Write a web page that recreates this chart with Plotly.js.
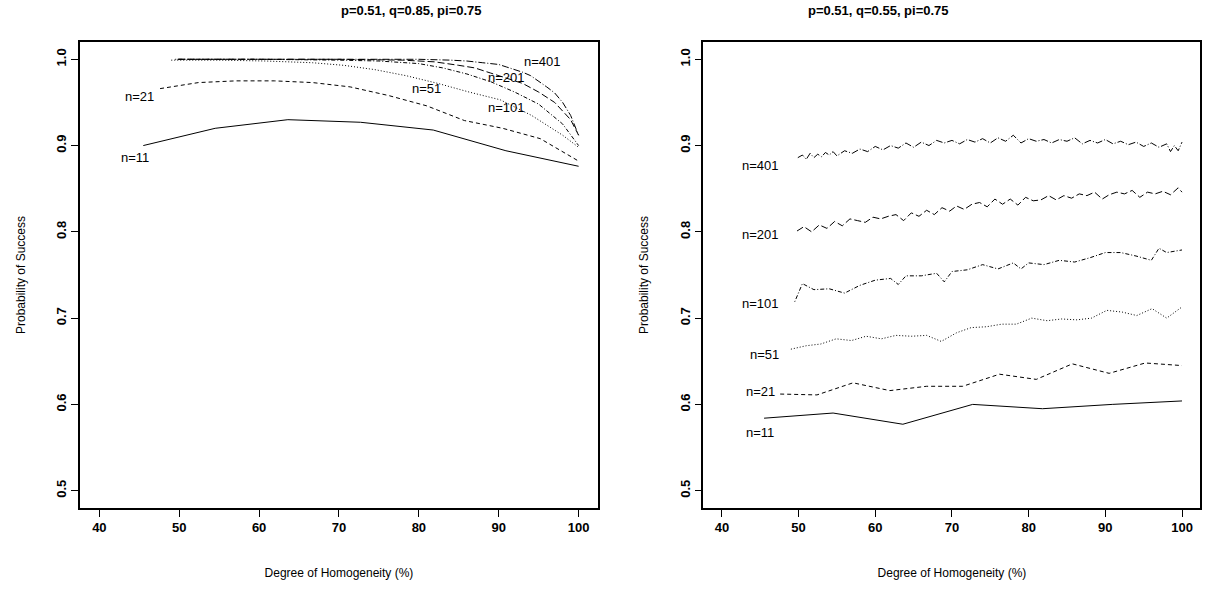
<!DOCTYPE html>
<html><head><meta charset="utf-8">
<script src="https://cdn.plot.ly/plotly-3.0.1.min.js"></script>
<style>body{margin:0}#g{width:1215px;height:592px}</style>
</head><body><div id="g"></div>
<script>
// left panel: p=0.51, q=0.85
var L11x=[45.5,54.5,63.6,72.7,81.8,90.9,100];
var L11y=[0.900,0.920,0.930,0.927,0.918,0.894,0.876];
var L21x=[47.6,52.4,57.1,61.9,66.7,71.4,76.2,81.0,85.7,90.5,95.2,100];
var L21y=[0.966,0.973,0.975,0.975,0.973,0.968,0.958,0.946,0.929,0.920,0.908,0.882];
var L51x=[49.0,55.0,60.8,66.7,70.6,74.5,78.4,82.4,86.3,90.2,94.1,98.0,100];
var L51y=[0.999,0.999,0.998,0.996,0.993,0.988,0.981,0.972,0.962,0.953,0.935,0.912,0.898];
var L101x=[49.5,60,70,75,80,83,86,89,92,95,98,100];
var L101y=[1.000,1.000,0.999,0.998,0.995,0.990,0.983,0.974,0.962,0.948,0.925,0.900];
var L201x=[49.8,60,70,78,82,85,87,89,91,93,95,97,99,100];
var L201y=[1.000,1.000,1.000,0.999,0.997,0.993,0.990,0.984,0.978,0.972,0.962,0.950,0.930,0.912];
var L401x=[49.9,60,70,80,84,86,88,90,91,92,93,94,95,96,97,98,99,100];
var L401y=[1.000,1.000,1.000,1.000,0.999,0.998,0.996,0.994,0.991,0.988,0.985,0.981,0.975,0.968,0.961,0.950,0.935,0.912];
// right panel: p=0.51, q=0.55
var R11x=[45.5,54.5,63.6,72.7,81.8,90.9,100];
var R11y=[0.584,0.590,0.577,0.600,0.595,0.600,0.604];
var R21x=[47.6,52.4,57.1,61.9,66.7,71.4,76.2,81.0,85.7,90.5,95.2,100];
var R21y=[0.612,0.611,0.625,0.616,0.621,0.621,0.635,0.629,0.647,0.636,0.648,0.645];
var R51x=[49.0,51.0,52.9,54.9,56.9,58.8,60.8,62.7,64.7,66.7,68.6,70.6,72.5,74.5,76.5,78.4,80.4,82.4,84.3,86.3,88.2,90.2,92.2,94.1,96.1,98.0,100];
var R51y=[0.664,0.668,0.670,0.676,0.674,0.679,0.676,0.680,0.679,0.680,0.673,0.683,0.689,0.690,0.693,0.693,0.700,0.697,0.699,0.698,0.700,0.709,0.707,0.703,0.711,0.700,0.713];
var R101x=[49.5,50.5,52,54,56,58,60,62,63,64,66,68,69,70,72,74,76,78,79,80,82,84,86,88,90,92,94,96,97,98,100];
var R101y=[0.719,0.740,0.733,0.734,0.729,0.738,0.744,0.746,0.739,0.749,0.749,0.752,0.742,0.754,0.756,0.762,0.757,0.764,0.757,0.764,0.762,0.767,0.765,0.770,0.776,0.776,0.772,0.767,0.781,0.776,0.779];
var R201x=[49.8,50.7,51.7,52.7,53.7,54.7,55.7,56.7,57.7,58.7,59.7,60.7,61.7,62.7,63.7,64.7,65.7,66.7,67.7,68.7,69.7,70.6,71.6,72.6,73.6,74.6,75.6,76.6,77.6,78.6,79.6,80.6,81.6,82.6,83.6,84.6,85.6,86.6,87.6,88.6,89.6,90.5,91.5,92.5,93.5,94.5,95.5,96.5,97.5,98.5,99.5,100];
var R201y=[0.801,0.806,0.800,0.808,0.804,0.812,0.807,0.815,0.813,0.811,0.817,0.815,0.818,0.820,0.813,0.822,0.818,0.825,0.820,0.828,0.824,0.830,0.826,0.832,0.834,0.829,0.838,0.832,0.838,0.831,0.840,0.836,0.837,0.842,0.837,0.842,0.839,0.844,0.842,0.846,0.838,0.843,0.846,0.844,0.848,0.840,0.846,0.844,0.847,0.843,0.851,0.846];
var R401x=[49.9,50.5,51,51.5,52,52.5,53,53.5,54,54.5,55,56,57,58,59,60,61,62,63,64,65,66,67,68,69,70,71,72,73,74,75,76,77,78,79,80,81,82,83,84,85,86,87,88,89,90,91,92,93,94,95,96,97,98,98.5,99,99.5,100];
var R401y=[0.886,0.889,0.884,0.891,0.886,0.890,0.887,0.892,0.889,0.893,0.888,0.894,0.891,0.896,0.893,0.899,0.895,0.900,0.897,0.903,0.898,0.904,0.900,0.906,0.903,0.906,0.902,0.907,0.904,0.908,0.903,0.909,0.905,0.912,0.903,0.908,0.905,0.907,0.903,0.907,0.905,0.909,0.902,0.906,0.903,0.907,0.902,0.905,0.901,0.904,0.899,0.903,0.898,0.902,0.893,0.900,0.894,0.904];
var labels=['n=11','n=21','n=51','n=101','n=201','n=401'];
var dashes=['solid','4px,3px','1px,2px','1px,2px,4px,2px','7px,3px','7px,2px,1px,2px'];

var left=[[L11x,L11y],[L21x,L21y],[L51x,L51y],[L101x,L101y],[L201x,L201y],[L401x,L401y]];
var right=[[R11x,R11y],[R21x,R21y],[R51x,R51y],[R101x,R101y],[R201x,R201y],[R401x,R401y]];
var data=[];
left.forEach(function(s,i){data.push({x:s[0],y:s[1],mode:'lines',xaxis:'x',yaxis:'y',line:{color:'#000',width:1,dash:dashes[i]},name:labels[i]});});
right.forEach(function(s,i){data.push({x:s[0],y:s[1],mode:'lines',xaxis:'x2',yaxis:'y2',line:{color:'#000',width:1,dash:dashes[i]},name:labels[i]});});

var lpos=[[44.5,0.886],[45,0.957],[81,0.966],[91,0.944],[91,0.979],[95.5,0.998]];
var rpos=[[45,0.567],[45,0.615],[45.5,0.658],[45,0.717],[45,0.797],[45,0.877]];
var ann=[];
lpos.forEach(function(p,i){ann.push({x:p[0],y:p[1],xref:'x',yref:'y',text:labels[i],showarrow:false});});
rpos.forEach(function(p,i){ann.push({x:p[0],y:p[1],xref:'x2',yref:'y2',text:labels[i],showarrow:false});});
ann.push({text:'<b>p=0.51, q=0.85, pi=0.75</b>',xref:'paper',yref:'paper',x:0.279,y:0.998,showarrow:false,font:{size:13}});
ann.push({text:'<b>p=0.51, q=0.55, pi=0.75</b>',xref:'paper',yref:'paper',x:0.783,y:0.998,showarrow:false,font:{size:13}});

function xa(dom){return {domain:dom,range:[37.6,102.4],tickvals:[40,50,60,70,80,90,100],showline:true,mirror:true,linecolor:'#000',linewidth:1.5,ticks:'outside',ticklen:7,tickcolor:'#000',showgrid:false,zeroline:false,tickfont:{size:13,family:'Liberation Sans',weight:'bold'},
  title:{text:'Degree of Homogeneity (%)',font:{size:12},standoff:34}};}
function ya(anchor){return {domain:[0.142,0.929],anchor:anchor,range:[0.48,1.02],tickvals:[0.5,0.6,0.7,0.8,0.9,1.0],ticktext:['0.5','0.6','0.7','0.8','0.9','1.0'],tickangle:-90,showline:true,mirror:true,linecolor:'#000',linewidth:1.5,ticks:'outside',ticklen:7,tickcolor:'#000',showgrid:false,zeroline:false,tickfont:{size:13,family:'Liberation Sans',weight:'bold'},
  title:{text:'Probability of Success',font:{size:12},standoff:26}};}
var layout={width:1215,height:592,margin:{l:0,r:0,t:0,b:0},showlegend:false,plot_bgcolor:'#fff',paper_bgcolor:'#fff',
  font:{family:'Liberation Sans, Arial',color:'#000',size:13},
  xaxis:xa([0.066,0.492]),yaxis:ya('x'),
  xaxis2:Object.assign(xa([0.579,0.988]),{anchor:'y2'}),yaxis2:ya('x2'),
  annotations:ann};
layout.xaxis.anchor='y';
Plotly.newPlot('g',data,layout,{displayModeBar:false});
</script></body></html>
